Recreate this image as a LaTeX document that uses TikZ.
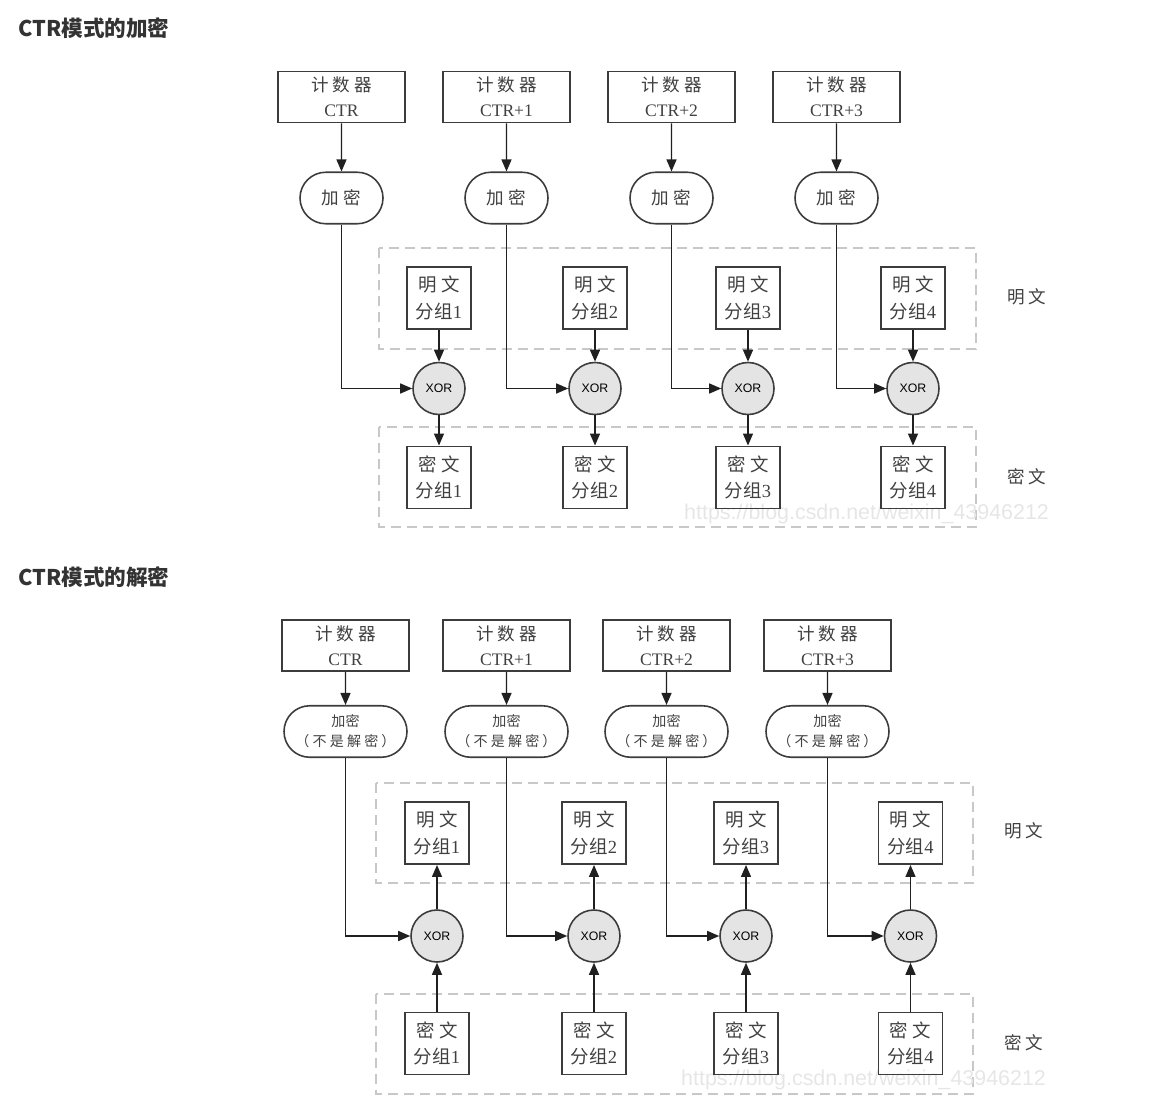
\documentclass[tikz,border=0pt]{standalone}
\usepackage{fontspec}
\setmainfont{Liberation Serif}
\setsansfont{Liberation Sans}
\newfontfamily\cjk{Noto Sans CJK SC}
\usetikzlibrary{positioning}
\usetikzlibrary{arrows.meta}
\usetikzlibrary{shapes.misc}
\definecolor{boxgray}{HTML}{3C3C3C}
\definecolor{linegray}{HTML}{202020}
\definecolor{txtgray}{HTML}{404040}
\definecolor{dashgray}{HTML}{C8C8C8}
\definecolor{xorfill}{HTML}{E4E4E4}
\definecolor{titlegray}{HTML}{333333}
\definecolor{wmgray}{HTML}{E6E6E6}
\newcommand{\zh}[1]{{\cjk #1}}
\tikzset{ctrbox/.style = {draw=boxgray, line width=1.1pt,
                          minimum width=25.4mm, minimum height=10.2mm,
                          inner sep=0pt, align=center, text=txtgray,
                          font=\fontsize{10}{14.2}\selectfont}}
\tikzset{blkbox/.style = {draw=boxgray, line width=1.1pt,
                          minimum width=12.8mm, minimum height=12.4mm,
                          inner sep=0pt, align=center, text=txtgray,
                          font=\fontsize{10.5}{15.2}\selectfont}}
\tikzset{encnode/.style = {rounded rectangle, draw=boxgray, line width=0.9pt,
                           minimum width=#1, minimum height=10.3mm,
                           inner sep=0pt, align=center, text=txtgray,
                           font=\fontsize{10}{12}\selectfont}}
\tikzset{xornode/.style = {circle, draw=boxgray, fill=xorfill, line width=0.9pt,
                           minimum size=10.4mm, inner sep=0pt,
                           font=\sffamily\fontsize{7}{7}\selectfont}}
\tikzset{region/.style = {draw=dashgray, line width=0.8pt,
                          dash pattern=on 2mm off 1.2mm}}
\tikzset{arr/.style = {-{Triangle[length=2.4mm, width=2mm]},
                       line width=0.8pt, draw=linegray}}
\tikzset{sidelab/.style = {text=txtgray, font=\fontsize{10}{12}\selectfont}}
\tikzset{title/.style = {anchor=west, text=titlegray,
                         font=\cjk\bfseries\fontsize{12.3}{14}\selectfont}}
\tikzset{wmark/.style = {anchor=west, text=wmgray,
                         font=\sffamily\fontsize{12.2}{13}\selectfont}}

\begin{document}
\begin{tikzpicture}[x=0.2mm, y=-0.2mm]
  \useasboundingbox (0,0) rectangle (1172,1110);

  % encryption
  \node[title] (enctitle) at (12,28) {CTR模式的加密};
  \draw[region] (379,248) rectangle (976,349);
  \draw[region] (379,427) rectangle (976,527);
  \node[sidelab] (eplab) at (1027,297) {\zh{明 文}};
  \node[sidelab] (eclab) at (1027,477) {\zh{密 文}};
  \node[wmark] (wm1) at (678,514) {https://blog.csdn.net/weixin\_43946212};
  \foreach \i/\cx/\bx/\ctr in {1/341.5/439/CTR, 2/506.5/595/CTR+1,
                                3/671.5/748/CTR+2, 4/836.5/913/CTR+3}{
    \node[ctrbox] (ec\i) at (\cx,97) {\zh{计 数 器}\\\ctr};
    \node[encnode=16.6mm] (ee\i) at (\cx,198) {\zh{加 密}};
    \node[blkbox] (ep\i) at (\bx,298) {\zh{明 文}\\\zh{分组}\i};
    \node[xornode] (ex\i) at (\bx,388.5) {XOR};
    \node[blkbox] (eo\i) at (\bx,477.5) {\zh{密 文}\\\zh{分组}\i};
    \draw[arr] (ec\i) -- (ee\i);
    \draw[arr] (ee\i) |- (ex\i);
    \draw[arr] (ep\i) -- (ex\i);
    \draw[arr] (ex\i) -- (eo\i);
  }

  % decryption
  \node[title] (dectitle) at (12,577) {CTR模式的解密};
  \draw[region] (376,783) rectangle (973,883);
  \draw[region] (376,994) rectangle (973,1094);
  \node[sidelab] (dplab) at (1024,831) {\zh{明 文}};
  \node[sidelab] (dclab) at (1024,1043) {\zh{密 文}};
  \node[wmark] (wm2) at (675,1080) {https://blog.csdn.net/weixin\_43946212};
  \foreach \i/\cx/\bx/\ctr in {1/345.5/437/CTR, 2/506.5/594/CTR+1,
                                3/666.5/746/CTR+2, 4/827.5/910.5/CTR+3}{
    \node[ctrbox] (dc\i) at (\cx,645.5) {\zh{计 数 器}\\\ctr};
    \node[encnode=24.6mm, font=\fontsize{8}{11.5}\selectfont]
      (de\i) at (\cx,731.5) {\zh{加密}\\\zh{（ 不 是 解 密 ）}};
    \node[blkbox] (dp\i) at (\bx,833) {\zh{明 文}\\\zh{分组}\i};
    \node[xornode] (dx\i) at (\bx,936) {XOR};
    \node[blkbox] (do\i) at (\bx,1043.5) {\zh{密 文}\\\zh{分组}\i};
    \draw[arr] (dc\i) -- (de\i);
    \draw[arr] (de\i) |- (dx\i);
    \draw[arr] (dx\i) -- (dp\i);
    \draw[arr] (do\i) -- (dx\i);
  }
\end{tikzpicture}
\end{document}
